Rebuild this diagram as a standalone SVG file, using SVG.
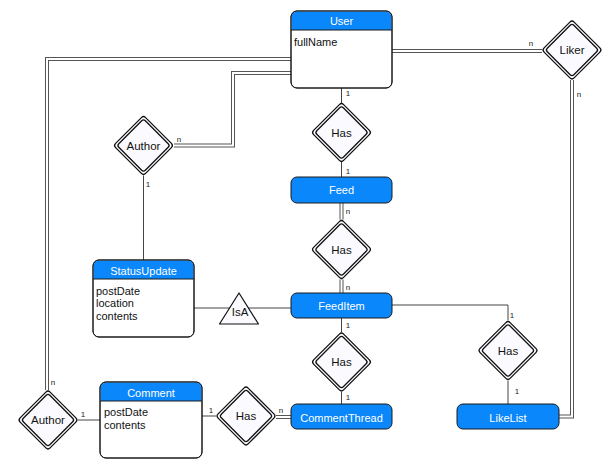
<svg xmlns="http://www.w3.org/2000/svg" xmlns:xlink="http://www.w3.org/1999/xlink" width="610" height="466" viewBox="0 0 610 466">
<style>
text{font-family:"Liberation Sans",Arial,Helvetica,sans-serif}
.hd{fill:#ffffff;font-size:11px;text-anchor:middle}
.at{fill:#111;font-size:11px}
.dl{fill:#111;font-size:11.5px;text-anchor:middle}
.cl{fill:#222;font-size:8px;text-anchor:middle}
.ent{fill:#ffffff;stroke:#1a1a1a;stroke-width:1}
.blue{fill:#0a87fa;stroke:#1a1a1a;stroke-width:1}
.hdr{fill:#0a87fa}
.sep{stroke:#1a1a1a;stroke-width:1}
.dout{fill:#fbfbff;stroke:#111;stroke-width:1.3;stroke-linejoin:round}
.din{fill:none;stroke:#111;stroke-width:1.3;stroke-linejoin:round}
.s{fill:none;stroke:#444;stroke-width:1}
.d1{fill:none;stroke:#555;stroke-width:4}
.d2{fill:none;stroke:#ffffff;stroke-width:2}
</style>
<defs>
<g id="dia">
<path class="dout" d="M-2.1,-27.9 Q0,-30 2.1,-27.9 L27.9,-2.1 Q30,0 27.9,2.1 L2.1,27.9 Q0,30 -2.1,27.9 L-27.9,2.1 Q-30,0 -27.9,-2.1 Z"/>
<path class="din" d="M-1.8,-24.7 Q0,-26.5 1.8,-24.7 L24.7,-1.8 Q26.5,0 24.7,1.8 L1.8,24.7 Q0,26.5 -1.8,24.7 L-24.7,1.8 Q-26.5,0 -24.7,-1.8 Z"/>
</g>
</defs>
<rect width="610" height="466" fill="#ffffff"/>
<g id="connectors">
<g id="doubles">
<path class="d1" d="M392,51 H542 M572,80 V416.5 H559 M291,73 H233 V145.5 H174 M291,59 H47 V390 M341.5,203 V219.5 M341.5,279.5 V293 M276,417 H291"/>
<path class="d2" d="M392,51 H542 M572,80 V416.5 H559 M291,73 H233 V145.5 H174 M291,59 H47 V390 M341.5,203 V219.5 M341.5,279.5 V293 M276,417 H291"/>
</g>
<path class="s" d="M341.5,88 V103 M341.5,162 V177 M341.5,318 V332 M341.5,392 V404 M392,305 H508 V320.5 M508,380.5 V404 M143.5,175.5 V260 M194,308 H291 M202,416 H216 M78,420 H100"/>
<g id="card">
<text class="cl" x="531" y="46">n</text>
<text class="cl" x="579" y="97">n</text>
<text class="cl" x="179" y="142">n</text>
<text class="cl" x="53" y="385">n</text>
<text class="cl" x="348" y="96">1</text>
<text class="cl" x="348" y="174">1</text>
<text class="cl" x="348" y="214">n</text>
<text class="cl" x="348" y="290">n</text>
<text class="cl" x="348" y="328">1</text>
<text class="cl" x="348" y="400">1</text>
<text class="cl" x="148" y="187">1</text>
<text class="cl" x="512" y="318">1</text>
<text class="cl" x="517" y="394">1</text>
<text class="cl" x="211" y="413">1</text>
<text class="cl" x="281" y="413">n</text>
<text class="cl" x="83" y="417">1</text>
</g>
</g>
<g id="User">
<rect class="ent" x="291" y="11" width="101" height="77" rx="6"/>
<path class="hdr" d="M291.5,30 V17 a5.5,5.5 0 0 1 5.5,-5.5 H386 a5.5,5.5 0 0 1 5.5,5.5 V30 Z"/>
<rect x="291" y="11" width="101" height="77" rx="6" fill="none" stroke="#1a1a1a"/>
<line class="sep" x1="291" y1="30" x2="392" y2="30"/>
<text class="hd" x="341.5" y="25">User</text>
<text class="at" x="294" y="46">fullName</text>
</g>
<g id="Liker"><use xlink:href="#dia" x="572" y="50"/><text class="dl" x="572" y="54">Liker</text></g>
<g id="HasUserFeed"><use xlink:href="#dia" x="341.5" y="132.5"/><text class="dl" x="341.5" y="136.5">Has</text></g>
<g id="Feed"><rect class="blue" x="291" y="177" width="101" height="26" rx="6"/><text class="hd" x="341.5" y="194">Feed</text></g>
<g id="HasFeedItem"><use xlink:href="#dia" x="341.5" y="249.5"/><text class="dl" x="341.5" y="253.5">Has</text></g>
<g id="FeedItem"><rect class="blue" x="291" y="293" width="101" height="25" rx="6"/><text class="hd" x="341.5" y="310">FeedItem</text></g>
<g id="AuthorStatus"><use xlink:href="#dia" x="143.5" y="145.5"/><text class="dl" x="143.5" y="149.5">Author</text></g>
<g id="StatusUpdate">
<rect class="ent" x="93" y="260" width="101" height="77" rx="6"/>
<path class="hdr" d="M93.5,279 V266 a5.5,5.5 0 0 1 5.5,-5.5 H188 a5.5,5.5 0 0 1 5.5,5.5 V279 Z"/>
<rect x="93" y="260" width="101" height="77" rx="6" fill="none" stroke="#1a1a1a"/>
<line class="sep" x1="93" y1="279" x2="194" y2="279"/>
<text class="hd" x="143.5" y="275">StatusUpdate</text>
<text class="at" x="96" y="294.5">postDate</text>
<text class="at" x="96" y="307">location</text>
<text class="at" x="96" y="320">contents</text>
</g>
<g id="IsA"><path d="M239,293 L258.5,324 L219.5,324 Z" fill="#fbfbff" stroke="#111" stroke-width="1.2" stroke-linejoin="round"/><text class="dl" x="240" y="316">IsA</text></g>
<g id="HasComments"><use xlink:href="#dia" x="341.5" y="362"/><text class="dl" x="341.5" y="366">Has</text></g>
<g id="CommentThread"><rect class="blue" x="291" y="404" width="101" height="25" rx="6"/><text class="hd" x="341.5" y="421.5">CommentThread</text></g>
<g id="HasLikes"><use xlink:href="#dia" x="508" y="350.5"/><text class="dl" x="508" y="354.5">Has</text></g>
<g id="LikeList"><rect class="blue" x="457" y="404" width="102" height="25" rx="6"/><text class="hd" x="508" y="421.5">LikeList</text></g>
<g id="Comment">
<rect class="ent" x="100" y="382" width="102" height="76" rx="6"/>
<path class="hdr" d="M100.5,401 V388 a5.5,5.5 0 0 1 5.5,-5.5 H196 a5.5,5.5 0 0 1 5.5,5.5 V401 Z"/>
<rect x="100" y="382" width="102" height="76" rx="6" fill="none" stroke="#1a1a1a"/>
<line class="sep" x1="100" y1="401" x2="202" y2="401"/>
<text class="hd" x="151" y="397">Comment</text>
<text class="at" x="104" y="416">postDate</text>
<text class="at" x="104" y="429">contents</text>
</g>
<g id="HasThread"><use xlink:href="#dia" x="246" y="416"/><text class="dl" x="246" y="420">Has</text></g>
<g id="AuthorComment"><use xlink:href="#dia" x="48" y="420"/><text class="dl" x="48" y="424">Author</text></g>
</svg>
